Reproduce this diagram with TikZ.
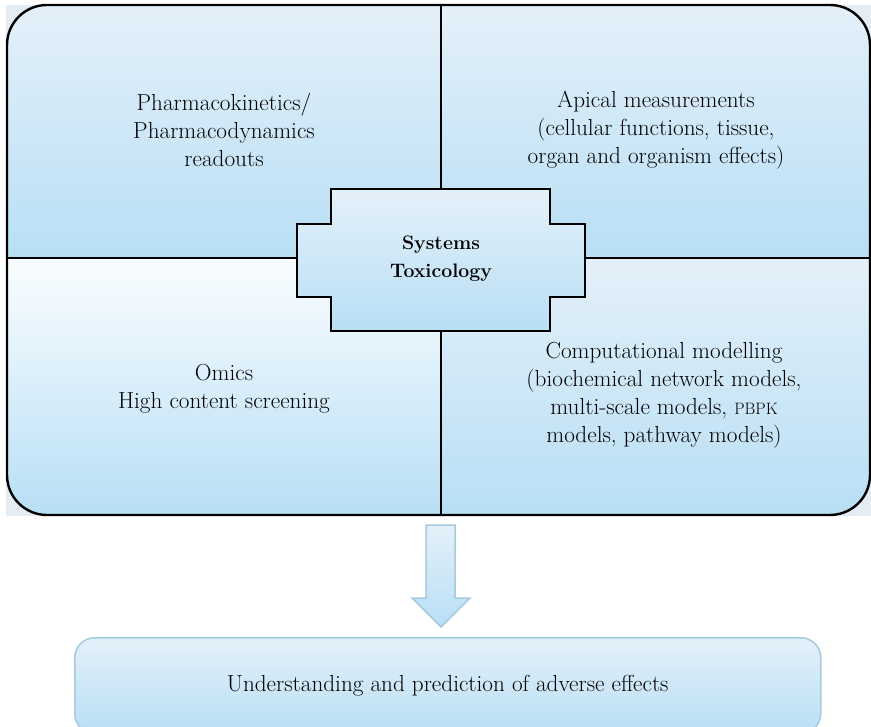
\documentclass[tikz,border=0pt]{standalone}
\usepackage{fontspec}
\definecolor{paneltop}{HTML}{E4F0F9}
\definecolor{panelbot}{HTML}{B8DFF5}
\definecolor{panelwhite}{HTML}{FAFDFF}
\definecolor{backdrop}{HTML}{E4EDF3}
\definecolor{softline}{HTML}{A4CBDE}

\begin{document}
\begin{tikzpicture}[x=1pt, y=-1pt,
    every node/.style={font=\fontsize{23.2}{28}\selectfont, align=center},
    panel/.style={top color=paneltop, bottom color=panelbot}]
  \useasboundingbox (0,0) rectangle (871,727);
  % backdrop behind the big box
  \fill[backdrop] (6,5) rectangle (871,516);
  % four quadrants inside the big box
  \begin{scope}
    \clip[rounded corners=40pt] (7,5) rectangle (870,515);
    \shade[panel] (7,5) rectangle (441,258);
    \shade[panel] (441,5) rectangle (870,258);
    \shade[top color=panelwhite, bottom color=panelbot] (7,258) rectangle (441,515);
    \shade[panel] (441,258) rectangle (870,515);
  \end{scope}
  \draw[line width=1.6pt] (441,5) -- (441,515);
  \draw[line width=1.6pt] (7,258) -- (870,258);
  \draw[line width=2.4pt, rounded corners=40pt] (7,5) rectangle (870,515);
  % quadrant texts
  \node (pkpd) at (224,130) {Pharmacokinetics/\\Pharmacodynamics\\readouts};
  \node (apical) at (656,130) {Apical measurements\\(cellular functions, tissue,\\organ and organism effects)};
  \node (omics) at (224,389) {Omics\\High content screening};
  \node (compmod) at (664,395) {Computational modelling\\(biochemical network models,\\multi-scale models, {\fontsize{16.5}{28}\selectfont PBPK}\\models, pathway models)};
  % Systems Toxicology box in the middle
  \draw[line width=1.6pt, panel] (331,189) -- (550,189) -- (550,224) -- (585,224)
    -- (585,297) -- (550,297) -- (550,331) -- (331,331) -- (331,297) -- (297,297)
    -- (297,224) -- (331,224) -- cycle;
  \node[font=\fontsize{19.5}{28}\selectfont\bfseries] (systox) at (441,259) {Systems\\Toxicology};
  % block arrow down to the outcome
  \draw[softline, line width=1.5pt, panel] (426,525) -- (455,525) -- (455,598) -- (470,598)
    -- (441,627) -- (412,598) -- (426,598) -- cycle;
  % outcome box
  \node[draw=softline, line width=1.5pt, rounded corners=20pt, panel, anchor=north west,
    minimum width=746pt, minimum height=96pt] (outcome) at (74,637)
    {Understanding and prediction of adverse effects};
\end{tikzpicture}
\end{document}
